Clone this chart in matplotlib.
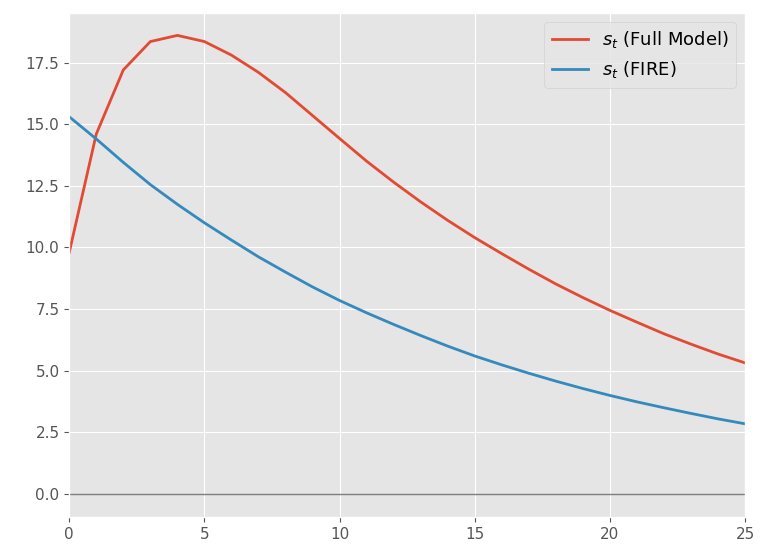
import matplotlib
matplotlib.use("Agg")
import matplotlib.pyplot as plt

plt.style.use("ggplot")

t = list(range(26))
s_full = [9.8, 14.6, 17.2, 18.35, 18.6, 18.35, 17.8, 17.1, 16.28, 15.35,
          14.42, 13.5, 12.65, 11.85, 11.1, 10.4, 9.75, 9.12, 8.52, 7.97,
          7.45, 6.97, 6.5, 6.08, 5.68, 5.32]
s_fire = [15.3, 14.4, 13.45, 12.55, 11.75, 11.0, 10.3, 9.62, 9.0, 8.4,
          7.85, 7.35, 6.88, 6.43, 6.0, 5.6, 5.24, 4.9, 4.58, 4.28,
          4.0, 3.74, 3.5, 3.27, 3.05, 2.85]

fig, ax = plt.subplots(figsize=(7.61, 5.5), dpi=100)
fig.subplots_adjust(left=0.091, right=0.979, top=0.976, bottom=0.06)

ax.plot(t, s_full, lw=2, label=r"$s_t$ (Full Model)")
ax.plot(t, s_fire, lw=2, label=r"$s_t$ (FIRE)")
ax.axhline(0, color="k", lw=1, alpha=0.5)

ax.set_xlim(0, 25)
ax.set_ylim(-0.93, 19.5)
ax.tick_params(labelsize=11)
ax.legend(fontsize=13)

fig.savefig("out.png")
